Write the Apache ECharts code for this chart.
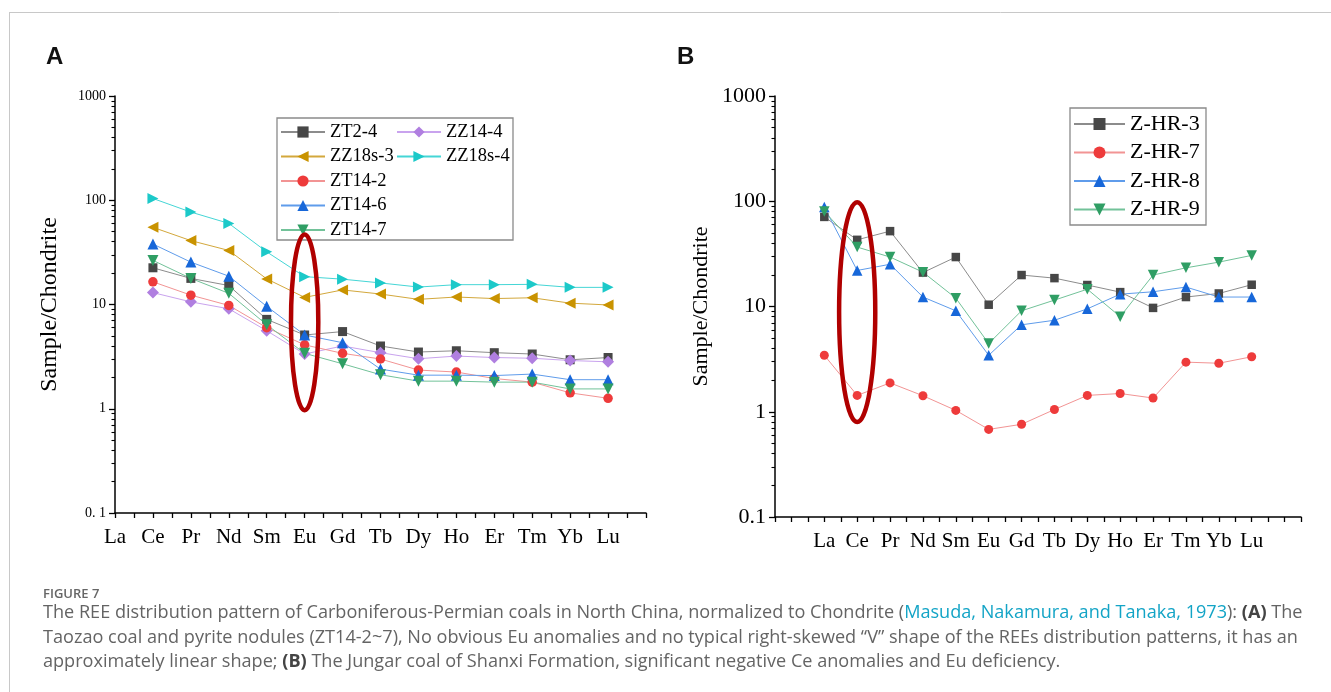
<!DOCTYPE html>
<html>
<head>
<meta charset="utf-8">
<title>REE patterns</title>
<script src="https://cdn.jsdelivr.net/npm/echarts@6/dist/echarts.min.js"></script>
<style>
    body { margin: 0; background: #fff; }
    #main { width: 1331px; height: 692px; }
</style>
</head>
<body>
<div id="main"></div>
<script>
// REE order on the x axis
const elements = ['La', 'Ce', 'Pr', 'Nd', 'Sm', 'Eu', 'Gd', 'Tb', 'Dy', 'Ho', 'Er', 'Tm', 'Yb', 'Lu'];

// panel A (no La value)
const zt2_4   = [null, 22.5, 17.8, 15.2, 7.2, 5.1, 5.5, 4.0, 3.5, 3.6, 3.45, 3.35, 2.95, 3.1];
const zz14_4  = [null, 13, 10.6, 9.1, 5.6, 3.35, 4.0, 3.45, 3.02, 3.2, 3.1, 3.05, 2.9, 2.82];
const zz18s_3 = [null, 55, 41, 33, 17.6, 11.7, 13.8, 12.6, 11.2, 11.8, 11.4, 11.6, 10.3, 9.9];
const zz18s_4 = [null, 104, 77, 60, 32, 18.5, 17.5, 16.1, 14.7, 15.5, 15.5, 15.6, 14.6, 14.6];
const zt14_2  = [null, 16.5, 12.3, 9.8, 6.0, 4.1, 3.4, 3.0, 2.35, 2.25, 1.95, 1.8, 1.42, 1.26];
const zt14_6  = [null, 38, 25.5, 18.7, 9.6, 5.1, 4.3, 2.4, 2.1, 2.1, 2.08, 2.15, 1.9, 1.9];
const zt14_7  = [null, 26.5, 17.8, 12.8, 6.4, 3.4, 2.7, 2.12, 1.84, 1.84, 1.8, 1.8, 1.55, 1.55];

// panel B
const zhr3 = [71, 43, 52, 21, 29.5, 10.4, 19.9, 18.6, 16, 13.7, 9.7, 12.3, 13.3, 16.1];
const zhr7 = [3.44, 1.43, 1.88, 1.42, 1.03, 0.68, 0.76, 1.05, 1.43, 1.49, 1.35, 2.96, 2.89, 3.33];
const zhr8 = [88, 22, 25.2, 12.3, 9.1, 3.44, 6.7, 7.4, 9.5, 13.1, 13.8, 15.3, 12.3, 12.3];
const zhr9 = [80, 36.7, 29.5, 21.2, 12, 4.45, 9.1, 11.5, 14.6, 8.0, 19.9, 23.3, 26.4, 30.6];

// y ticks
const yTickValues = [0.1, 1, 10, 100, 1000];
const yTickLabelsA = ['0. 1', '1', '10', '100', '1000'];
const yTickLabelsB = ['0.1', '1', '10', '100', '1000'];

// highlighted anomaly: [element index, low, high, half width in element units]
const ellipseA = [[5, 0.97, 47, 0.36]];
const ellipseB = [[1, 0.8, 98, 0.55]];

const serifFont = '"Liberation Serif", "DejaVu Serif", serif';
const capFont = '"Open Sans", "Noto Sans", sans-serif';

function minorLogTicks() {
    var out = [];
    for (var e = -1; e < 3; e++) {
        for (var k = 2; k <= 9; k++) out.push(k * Math.pow(10, e));
    }
    return out;
}

function toPairs(arr) {
    var out = [];
    arr.forEach(function(v, i) {
        if (v != null) out.push([i, v]);
    });
    return out;
}

function tickLabel(labels) {
    return function(v) {
        var lg = Math.round(Math.log10(v));
        var idx = yTickValues.findIndex(function(t) { return Math.round(Math.log10(t)) === lg; });
        return idx >= 0 ? labels[idx] : '';
    };
}

function xLabel(v) {
    if (Math.abs(v - Math.round(v)) > 1e-6) return '';
    var i = Math.round(v);
    return elements[i] || '';
}

function makeAxes(gi, xmin, xmax, labels, yFont, nameFont, nameGap) {
    var xa = {
        type: 'value', gridIndex: gi, min: xmin, max: xmax, interval: 0.5,
        axisLine: { onZero: false, lineStyle: { color: '#000', width: 1.5 } },
        axisTick: { show: true, length: 5, lineStyle: { color: '#000', width: 1.3 } },
        axisLabel: { formatter: xLabel, margin: 14, color: '#000', fontFamily: serifFont, fontSize: 21, showMinLabel: true, showMaxLabel: true },
        splitLine: { show: false }
    };
    var ya = {
        type: 'log', logBase: 10, gridIndex: gi, min: 0.1, max: 1000, position: 'left',
        name: 'Sample/Chondrite', nameLocation: 'middle', nameRotate: 90, nameGap: nameGap,
        nameTextStyle: { color: '#000', fontFamily: serifFont, fontSize: nameFont },
        axisLine: { show: true, onZero: false, lineStyle: { color: '#000', width: 1.5 } },
        axisTick: { show: true, length: 6, customValues: yTickValues, lineStyle: { color: '#000', width: 1.3 } },
        axisLabel: { customValues: yTickValues, formatter: tickLabel(labels), margin: 9, color: '#000', fontFamily: serifFont, fontSize: yFont },
        splitLine: { show: false }
    };
    var yMinor = {
        type: 'log', logBase: 10, gridIndex: gi, min: 0.1, max: 1000, position: 'left', offset: 0,
        axisLine: { show: false, onZero: false },
        axisTick: { show: true, length: 3.5, customValues: minorLogTicks(), lineStyle: { color: '#000', width: 1.1 } },
        axisLabel: { show: false },
        splitLine: { show: false }
    };
    return { x: xa, y: [ya, yMinor] };
}

const axA = makeAxes(0, 0, 14, yTickLabelsA, 14, 24, 53);
const axB = makeAxes(1, -1.5, 14.5, yTickLabelsB, 22, 22, 63);

function lineSeries(name, arr, gi, symbol, size, rotate, lineColor, markColor) {
    return {
        name: name, type: 'line', xAxisIndex: gi, yAxisIndex: gi * 2,
        data: toPairs(arr),
        symbol: symbol, symbolSize: size, symbolRotate: rotate,
        showAllSymbol: true,
        lineStyle: { color: lineColor, width: 1 },
        itemStyle: { color: markColor, borderWidth: 0 },
        emphasis: { disabled: true },
        animation: false
    };
}

function ellipseSeries(data, gi) {
    return {
        type: 'custom', xAxisIndex: gi, yAxisIndex: gi * 2, z: 10, silent: true,
        data: data,
        renderItem: function(params, api) {
            var x = api.value(0);
            var top = api.coord([x, api.value(2)]);
            var bot = api.coord([x, api.value(1)]);
            var side = api.coord([x + api.value(3), api.value(1)]);
            return {
                type: 'ellipse',
                shape: { cx: top[0], cy: (top[1] + bot[1]) / 2, rx: side[0] - top[0], ry: (bot[1] - top[1]) / 2 },
                style: { fill: 'none', stroke: '#b00000', lineWidth: 4.5 }
            };
        },
        animation: false
    };
}

var myChart = echarts.init(document.getElementById('main'));

var legendText = { color: '#000', fontFamily: serifFont, fontSize: 18.5 };

var option = {
    backgroundColor: '#fff',
    animation: false,
    grid: [
        { left: 115, top: 96, width: 531, height: 417 },
        { left: 775, top: 96, width: 526, height: 421 }
    ],
    xAxis: [axA.x, axB.x],
    yAxis: axA.y.concat(axB.y),
    legend: [
        {
            data: ['ZT2-4', 'ZZ18s-3', 'ZT14-2', 'ZT14-6', 'ZT14-7'],
            orient: 'vertical', left: 280, top: 122.5, padding: 0,
            itemWidth: 44, itemHeight: 14, itemGap: 5.5,
            textStyle: legendText, selectedMode: false
        },
        {
            data: ['ZZ14-4', 'ZZ18s-4'],
            orient: 'vertical', left: 396, top: 122.5, padding: 0,
            itemWidth: 44, itemHeight: 14, itemGap: 5.5,
            textStyle: legendText, selectedMode: false
        },
        {
            data: ['Z-HR-3', 'Z-HR-7', 'Z-HR-8', 'Z-HR-9'],
            orient: 'vertical', left: 1073, top: 113, padding: 0,
            itemWidth: 51, itemHeight: 15, itemGap: 6.5,
            textStyle: { color: '#000', fontFamily: serifFont, fontSize: 22 }, selectedMode: false
        }
    ],
    series: [
        lineSeries('ZT2-4', zt2_4, 0, 'rect', 9, 0, '#8c8c8c', '#474747'),
        lineSeries('ZZ14-4', zz14_4, 0, 'diamond', 12, 0, '#c9a3ee', '#b07fe0'),
        lineSeries('ZZ18s-3', zz18s_3, 0, 'triangle', 11, 90, '#d3a83c', '#c99300'),
        lineSeries('ZZ18s-4', zz18s_4, 0, 'triangle', 11, -90, '#45d6d6', '#1cc9c9'),
        lineSeries('ZT14-2', zt14_2, 0, 'circle', 9.5, 0, '#f29494', '#ee3b3b'),
        lineSeries('ZT14-6', zt14_6, 0, 'triangle', 11, 0, '#5f9ceb', '#1767d9'),
        lineSeries('ZT14-7', zt14_7, 0, 'triangle', 11, 180, '#72c299', '#2f9e64'),
        lineSeries('Z-HR-3', zhr3, 1, 'rect', 8.5, 0, '#8c8c8c', '#474747'),
        lineSeries('Z-HR-7', zhr7, 1, 'circle', 9, 0, '#f29494', '#ee3b3b'),
        lineSeries('Z-HR-8', zhr8, 1, 'triangle', 10.5, 0, '#5f9ceb', '#1767d9'),
        lineSeries('Z-HR-9', zhr9, 1, 'triangle', 10.5, 180, '#72c299', '#2f9e64'),
        ellipseSeries(ellipseA, 0),
        ellipseSeries(ellipseB, 1)
    ],
    graphic: [
        // frame lines of the figure
        { type: 'line', shape: { x1: 9, y1: 12.5, x2: 1331, y2: 12.5 }, style: { stroke: '#c8c8c8', lineWidth: 1 }, silent: true },
        { type: 'line', shape: { x1: 9.5, y1: 12, x2: 9.5, y2: 692 }, style: { stroke: '#c8c8c8', lineWidth: 1 }, silent: true },
        // legend frames
        { type: 'rect', shape: { x: 277, y: 118, width: 236, height: 122 }, style: { fill: 'none', stroke: '#8a8a8a', lineWidth: 1.3 }, z: 3, silent: true },
        { type: 'rect', shape: { x: 1070, y: 108, width: 136, height: 117 }, style: { fill: 'none', stroke: '#8a8a8a', lineWidth: 1.3 }, z: 3, silent: true },
        // panel letters
        { type: 'text', x: 46, y: 57, style: { text: 'A', fill: '#111', font: 'bold 24px "Liberation Sans", Arial, sans-serif', verticalAlign: 'middle' } },
        { type: 'text', x: 677, y: 57, style: { text: 'B', fill: '#111', font: 'bold 24px "Liberation Sans", Arial, sans-serif', verticalAlign: 'middle' } },
        // caption
        { type: 'text', x: 43, y: 594, style: { text: 'FIGURE 7', fill: '#666', font: '600 13px ' + capFont, verticalAlign: 'middle' } },
        {
            type: 'text', x: 43, y: 613,
            style: {
                text: '{n|The REE distribution pattern of Carboniferous-Permian coals in North China, normalized to Chondrite (}{c|Masuda, Nakamura, and Tanaka, 1973}{n|): }{b|(A)}{n| The}',
                verticalAlign: 'middle',
                rich: {
                    n: { fill: '#646464', font: '18.1px ' + capFont },
                    c: { fill: '#13a4c6', font: '18.1px ' + capFont },
                    b: { fill: '#444', font: 'bold 18.1px ' + capFont }
                }
            }
        },
        {
            type: 'text', x: 43, y: 638,
            style: {
                text: 'Taozao coal and pyrite nodules (ZT14-2~7), No obvious Eu anomalies and no typical right-skewed \u201cV\u201d shape of the REEs distribution patterns, it has an',
                verticalAlign: 'middle', fill: '#646464', font: '18.1px ' + capFont
            }
        },
        {
            type: 'text', x: 43, y: 662,
            style: {
                text: '{n|approximately linear shape; }{b|(B)}{n| The Jungar coal of Shanxi Formation, significant negative Ce anomalies and Eu deficiency.}',
                verticalAlign: 'middle',
                rich: {
                    n: { fill: '#646464', font: '18.1px ' + capFont },
                    b: { fill: '#444', font: 'bold 18.1px ' + capFont }
                }
            }
        }
    ]
};

if (option && typeof option === 'object') {
    myChart.setOption(option);
}
</script>
</body>
</html>
